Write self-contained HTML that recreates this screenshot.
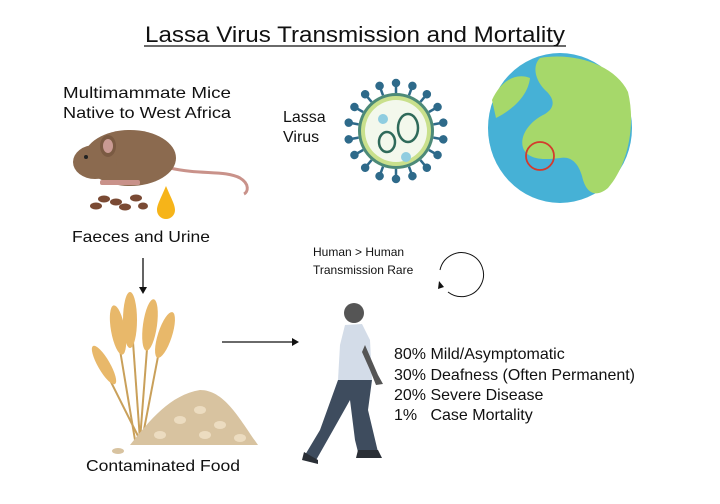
<!DOCTYPE html>
<html><head><meta charset="utf-8"><style>
html,body{margin:0;padding:0;background:#fff;}
svg{display:block;font-family:"Liberation Sans",sans-serif;}
</style></head><body>
<svg width="720" height="504" viewBox="0 0 720 504">
<rect width="720" height="504" fill="#fff"/>
<text x="355" y="42" font-size="22" text-anchor="middle" fill="#111" textLength="420" lengthAdjust="spacingAndGlyphs">Lassa Virus Transmission and Mortality</text>
<line x1="144" y1="46" x2="566" y2="46" stroke="#111" stroke-width="1.3"/>

<text x="63" y="98" font-size="16" fill="#111" textLength="168" lengthAdjust="spacingAndGlyphs">Multimammate Mice</text>
<text x="63" y="118" font-size="16" fill="#111" textLength="168" lengthAdjust="spacingAndGlyphs">Native to West Africa</text>
<!-- mouse -->
<path d="M170 168 C200 175 225 170 240 178 C250 184 248 192 244 194" stroke="#c9928a" stroke-width="3" fill="none"/>
<ellipse cx="130" cy="158" rx="46" ry="28" fill="#8b6a4f"/>
<ellipse cx="95" cy="162" rx="22" ry="17" fill="#8b6a4f"/>
<ellipse cx="108" cy="146" rx="8" ry="11" fill="#7a5a42"/>
<ellipse cx="108" cy="146" rx="5" ry="7" fill="#c99a93"/>
<circle cx="86" cy="157" r="2" fill="#222"/>
<rect x="100" y="180" width="40" height="5" rx="2" fill="#c9928a"/>
<g fill="#7a4a34">
<ellipse cx="96" cy="206" rx="6" ry="3.5"/><ellipse cx="116" cy="202" rx="6" ry="3.5"/><ellipse cx="136" cy="198" rx="6" ry="3.5"/>
<ellipse cx="104" cy="199" rx="6" ry="3.5"/><ellipse cx="125" cy="207" rx="6" ry="3.5"/><ellipse cx="143" cy="206" rx="5" ry="3.5"/>
</g>
<path d="M166 186 C160 200 157 205 157 210 A9 9 0 0 0 175 210 C175 205 172 200 166 186Z" fill="#f6b419"/>
<text x="72" y="242" font-size="16" fill="#111" textLength="138" lengthAdjust="spacingAndGlyphs">Faeces and Urine</text>

<text x="283" y="122" font-size="16" fill="#111">Lassa</text>
<text x="283" y="142" font-size="16" fill="#111">Virus</text>
<!-- virus -->
<g transform="translate(396,131)">
<g stroke="#2e6a8a" stroke-width="2.5" fill="#2e6a8a">
<g transform="rotate(0)"><line y1="-38" y2="-48"/><circle cy="-48" r="3"/></g><g transform="rotate(20)"><line y1="-38" y2="-48"/><circle cy="-48" r="3"/></g><g transform="rotate(40)"><line y1="-38" y2="-48"/><circle cy="-48" r="3"/></g><g transform="rotate(60)"><line y1="-38" y2="-48"/><circle cy="-48" r="3"/></g><g transform="rotate(80)"><line y1="-38" y2="-48"/><circle cy="-48" r="3"/></g><g transform="rotate(100)"><line y1="-38" y2="-48"/><circle cy="-48" r="3"/></g><g transform="rotate(120)"><line y1="-38" y2="-48"/><circle cy="-48" r="3"/></g><g transform="rotate(140)"><line y1="-38" y2="-48"/><circle cy="-48" r="3"/></g><g transform="rotate(160)"><line y1="-38" y2="-48"/><circle cy="-48" r="3"/></g><g transform="rotate(180)"><line y1="-38" y2="-48"/><circle cy="-48" r="3"/></g><g transform="rotate(200)"><line y1="-38" y2="-48"/><circle cy="-48" r="3"/></g><g transform="rotate(220)"><line y1="-38" y2="-48"/><circle cy="-48" r="3"/></g><g transform="rotate(240)"><line y1="-38" y2="-48"/><circle cy="-48" r="3"/></g><g transform="rotate(260)"><line y1="-38" y2="-48"/><circle cy="-48" r="3"/></g><g transform="rotate(280)"><line y1="-38" y2="-48"/><circle cy="-48" r="3"/></g><g transform="rotate(300)"><line y1="-38" y2="-48"/><circle cy="-48" r="3"/></g><g transform="rotate(320)"><line y1="-38" y2="-48"/><circle cy="-48" r="3"/></g><g transform="rotate(340)"><line y1="-38" y2="-48"/><circle cy="-48" r="3"/></g>
</g>
<circle r="38" fill="#4d8a78"/>
<circle r="35" fill="#c9e08c"/>
<circle r="31" fill="#f3f8ec"/>
<ellipse cx="12" cy="-3" rx="10" ry="14" fill="none" stroke="#2f6a5a" stroke-width="2.5"/>
<ellipse cx="-9" cy="11" rx="8" ry="10" fill="none" stroke="#2f6a5a" stroke-width="2.5"/>
<circle cx="-13" cy="-12" r="5" fill="#8fcde0"/>
<circle cx="10" cy="26" r="5" fill="#8fcde0"/>
</g>
<!-- globe -->
<ellipse cx="560" cy="128" rx="72" ry="75" fill="#46b1d6"/>
<path d="M540 58 C575 52 615 65 628 92 C636 125 628 165 608 188 C596 198 586 194 582 176 C578 162 570 156 560 158 C545 160 530 160 524 150 C518 138 528 122 545 114 C558 106 552 96 545 90 C535 80 532 66 540 58Z" fill="#a6d86a"/>
<path d="M492 100 C500 82 515 72 530 78 C528 96 512 110 496 118Z" fill="#a6d86a"/>
<circle cx="540" cy="156" r="14" fill="none" stroke="#d43a2c" stroke-width="1.8"/>

<line x1="143" y1="258" x2="143" y2="290" stroke="#111" stroke-width="1.3"/>
<path d="M139 287 L143 294 L147 287Z" fill="#111"/>

<text x="313" y="256" font-size="12" fill="#111">Human &gt; Human</text>
<text x="313" y="274" font-size="12" fill="#111">Transmission Rare</text>
<path d="M440 270 A22 22 0 1 1 448 292" fill="none" stroke="#111" stroke-width="1"/>
<path d="M439 281 L444 287 L438 289Z" fill="#111"/>

<line x1="222" y1="342" x2="294" y2="342" stroke="#111" stroke-width="1.3"/>
<path d="M292 338 L299 342 L292 346Z" fill="#111"/>

<!-- wheat -->
<g stroke="#c9a05a" stroke-width="2">
<line x1="135" y1="440" x2="115" y2="320"/><line x1="140" y1="440" x2="130" y2="300"/><line x1="140" y1="440" x2="150" y2="310"/><line x1="142" y1="440" x2="165" y2="320"/><line x1="140" y1="440" x2="100" y2="360"/>
</g>
<g fill="#e8b86a">
<ellipse cx="118" cy="330" rx="7" ry="25" transform="rotate(-10 118 330)"/>
<ellipse cx="130" cy="320" rx="7" ry="28"/>
<ellipse cx="150" cy="325" rx="7" ry="26" transform="rotate(8 150 325)"/>
<ellipse cx="165" cy="335" rx="7" ry="24" transform="rotate(18 165 335)"/>
<ellipse cx="104" cy="365" rx="6" ry="22" transform="rotate(-30 104 365)"/>
</g>
<path d="M130 445 C150 420 170 395 200 390 C225 390 240 420 258 445 Z" fill="#d8c3a0"/>
<g fill="#ecdcc0"><ellipse cx="180" cy="420" rx="6" ry="4"/><ellipse cx="200" cy="410" rx="6" ry="4"/><ellipse cx="220" cy="425" rx="6" ry="4"/><ellipse cx="160" cy="435" rx="6" ry="4"/><ellipse cx="205" cy="435" rx="6" ry="4"/><ellipse cx="240" cy="438" rx="6" ry="4"/></g>
<ellipse cx="118" cy="451" rx="6" ry="3" fill="#d8c3a0"/>
<text x="86" y="471" font-size="16" fill="#111" textLength="154" lengthAdjust="spacingAndGlyphs">Contaminated Food</text>

<!-- person -->
<circle cx="354" cy="313" r="10" fill="#555"/>
<path d="M345 325 L340 345 L338 380 L372 380 L370 340 L362 324Z" fill="#d3dce8"/>
<path d="M365 345 L378 375 L383 384 L376 385 L370 370 L362 352Z" fill="#555"/>
<path d="M338 380 L320 430 L305 455 L315 462 L332 432 L350 400 L355 440 L358 452 L378 452 L368 410 L372 380Z" fill="#3e4c5e"/>
<path d="M304 452 L318 460 L318 464 L302 460Z" fill="#2a2f36"/>
<path d="M358 450 L378 450 L382 458 L356 458Z" fill="#2a2f36"/>

<g font-size="16" fill="#111">
<text x="394" y="359">80% Mild/Asymptomatic</text>
<text x="394" y="380">30% Deafness (Often Permanent)</text>
<text x="394" y="400">20% Severe Disease</text>
<text x="394" y="420">1%&#160;&#160;&#160;Case Mortality</text>
</g>
</svg>
</body></html>
